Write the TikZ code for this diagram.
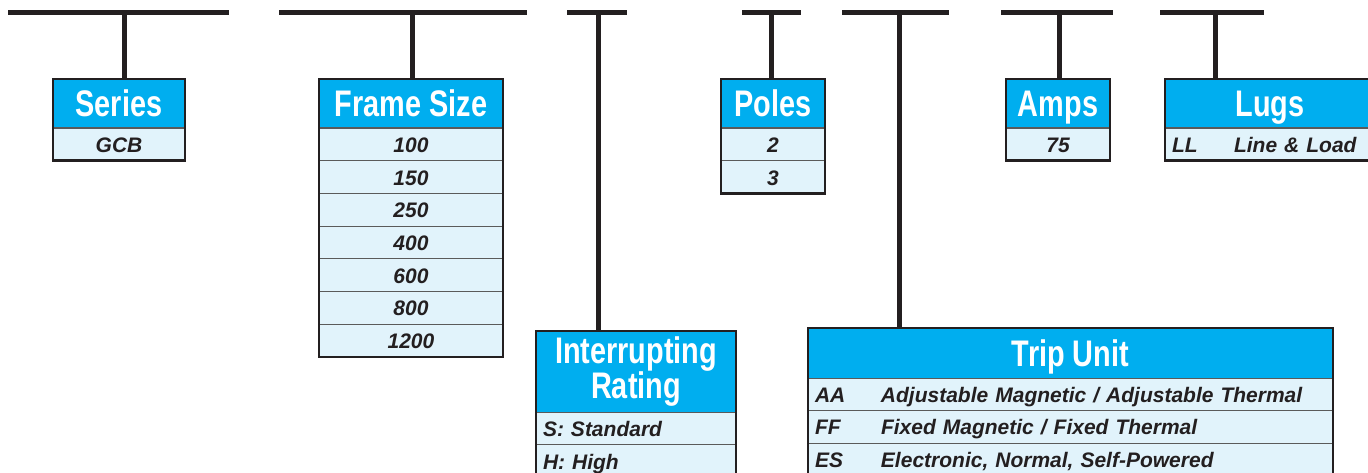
\documentclass[tikz,border=0pt]{standalone}
\usepackage{fontspec}
\setmainfont{Liberation Sans}
\newfontfamily\headfont{Liberation Sans}[FakeStretch=0.78]
\usetikzlibrary{positioning}
\definecolor{hdrblue}{HTML}{00AEEF}
\definecolor{cellblue}{HTML}{E1F3FB}
\definecolor{ink}{HTML}{231F20}
\definecolor{sepgray}{HTML}{5A5A5A}
\begin{document}
\begin{tikzpicture}[x=1pt,y=-1pt,
  bar/.style={draw=ink,line width=5pt},
  hdr/.style={fill=hdrblue,draw=sepgray,line width=1pt,text=white,inner sep=0pt,outer sep=0pt,minimum height=49pt,text height=27pt,text depth=0pt,font=\headfont\bfseries\fontsize{37}{32}\selectfont},
  cell/.style={fill=cellblue,draw=sepgray,line width=0.8pt,text=ink,inner sep=0pt,outer sep=0pt,minimum height=32.7pt,text height=16pt,text depth=0pt,font=\bfseries\itshape\fontsize{21}{24}\selectfont},
  lcell/.style={cell,align=left,inner xsep=7pt},
  frame/.style={draw=ink,line width=2.6pt}]
 \useasboundingbox (0,0) rectangle (1368,473);
 % bars on top
 \coordinate (series l) at (8,13);
 \coordinate (series r) at (229,13);
 \coordinate (series t) at (124,13);
 \coordinate (frame l) at (279,13);
 \coordinate (frame r) at (527,13);
 \coordinate (frame t) at (412,13);
 \coordinate (rating l) at (567,13);
 \coordinate (rating r) at (627,13);
 \coordinate (rating t) at (598,13);
 \coordinate (poles l) at (742,13);
 \coordinate (poles r) at (801,13);
 \coordinate (poles t) at (771,13);
 \coordinate (trip l) at (842,13);
 \coordinate (trip r) at (949,13);
 \coordinate (trip t) at (899,13);
 \coordinate (amps l) at (1001,13);
 \coordinate (amps r) at (1113,13);
 \coordinate (amps t) at (1059,13);
 \coordinate (lugs l) at (1160,13);
 \coordinate (lugs r) at (1264,13);
 \coordinate (lugs t) at (1215,13);
 % Series
 \node (hdr series) at (53,79) [hdr,anchor=north west,minimum width=132pt] {Series};
 \node (series gcb) [cell,minimum width=132pt,below=0pt of hdr series] {GCB};
 % Frame Size
 \node (hdr frame) at (319,79) [hdr,anchor=north west,minimum width=184pt] {Frame Size};
 \node (frame 1) [cell,minimum width=184pt,below=0pt of hdr frame] {100};
 \node (frame 2) [cell,minimum width=184pt,below=0pt of frame 1] {150};
 \node (frame 3) [cell,minimum width=184pt,below=0pt of frame 2] {250};
 \node (frame 4) [cell,minimum width=184pt,below=0pt of frame 3] {400};
 \node (frame 5) [cell,minimum width=184pt,below=0pt of frame 4] {600};
 \node (frame 6) [cell,minimum width=184pt,below=0pt of frame 5] {800};
 \node (frame 7) [cell,minimum width=184pt,below=0pt of frame 6] {1200};
 % Interrupting Rating
 \node (hdr rating) at (536,331) [hdr,anchor=north west,minimum width=200pt,minimum height=81pt,text height={},text depth={},align=center] {Interrupting\\Rating};
 \node (rating s) [lcell,text width=186pt,below=0pt of hdr rating] {S: Standard};
 \node (rating h) [lcell,text width=186pt,below=0pt of rating s] {H: High};
 % Poles
 \node (hdr poles) at (721,79) [hdr,anchor=north west,minimum width=104pt] {Poles};
 \node (poles 2) [cell,minimum width=104pt,below=0pt of hdr poles] {2};
 \node (poles 3) [cell,minimum width=104pt,below=0pt of poles 2] {3};
 % Trip Unit
 \node (hdr trip) at (808,328) [hdr,anchor=north west,minimum width=525pt,minimum height=50pt] {Trip Unit};
 \node (trip aa) [lcell,text width=511pt,minimum height=32.5pt,below=0pt of hdr trip] {\makebox[66pt][l]{AA}Adjustable Magnetic / Adjustable Thermal};
 \node (trip ff) [lcell,text width=511pt,minimum height=32.5pt,below=0pt of trip aa] {\makebox[66pt][l]{FF}Fixed Magnetic / Fixed Thermal};
 \node (trip es) [lcell,text width=511pt,minimum height=32.5pt,below=0pt of trip ff] {\makebox[66pt][l]{ES}Electronic, Normal, Self-Powered};
 % Amps
 \node (hdr amps) at (1006,79) [hdr,anchor=north west,minimum width=104pt] {Amps};
 \node (amps 75) [cell,minimum width=104pt,below=0pt of hdr amps] {75};
 % Lugs
 \node (hdr lugs) at (1165,79) [hdr,anchor=north west,minimum width=210pt] {Lugs};
 \node (lugs ll) [lcell,text width=196pt,below=0pt of hdr lugs] {\makebox[62pt][l]{LL}Line \& Load};
 % outer frames
 \draw[frame] (hdr series.north west) rectangle (series gcb.south east);
 \draw[frame] (hdr frame.north west) rectangle (frame 7.south east);
 \draw[frame] (hdr rating.north west) rectangle (rating h.south east);
 \draw[frame] (hdr poles.north west) rectangle (poles 3.south east);
 \draw[frame] (hdr trip.north west) rectangle (trip es.south east);
 \draw[frame] (hdr amps.north west) rectangle (amps 75.south east);
 \draw[frame] (hdr lugs.north west) rectangle (lugs ll.south east);
 % bars and stems
 \draw[bar] (series l) -- (series r);
 \draw[bar] (series t) -- (series t |- hdr series.north);
 \draw[bar] (frame l) -- (frame r);
 \draw[bar] (frame t) -- (frame t |- hdr frame.north);
 \draw[bar] (rating l) -- (rating r);
 \draw[bar] (rating t) -- (rating t |- hdr rating.north);
 \draw[bar] (poles l) -- (poles r);
 \draw[bar] (poles t) -- (poles t |- hdr poles.north);
 \draw[bar] (trip l) -- (trip r);
 \draw[bar] (trip t) -- (trip t |- hdr trip.north);
 \draw[bar] (amps l) -- (amps r);
 \draw[bar] (amps t) -- (amps t |- hdr amps.north);
 \draw[bar] (lugs l) -- (lugs r);
 \draw[bar] (lugs t) -- (lugs t |- hdr lugs.north);
\end{tikzpicture}
\end{document}
